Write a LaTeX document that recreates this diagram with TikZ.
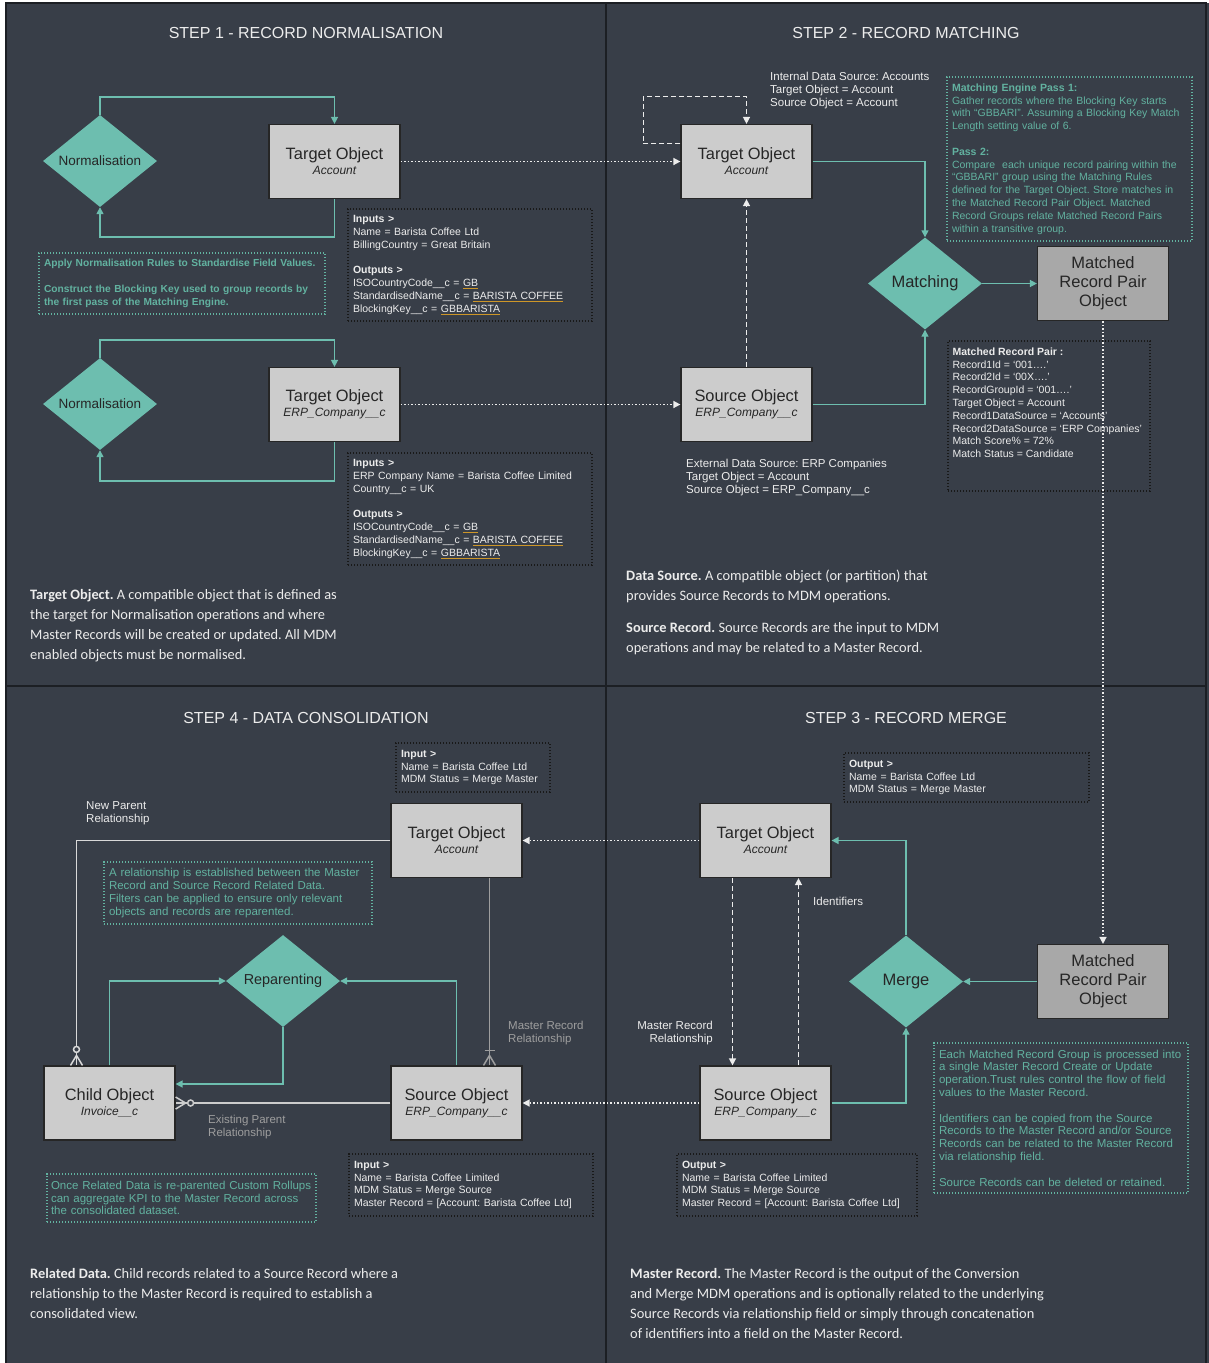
\documentclass[tikz,border=0pt]{standalone}
\usepackage{fontspec}
\setmainfont{Liberation Sans}
\newfontfamily\descfont{Carlito}
\usepackage{xcolor}
\usetikzlibrary{arrows.meta,shapes.geometric,positioning,calc}
\frenchspacing

\definecolor{panelbg}{RGB}{56,62,72}
\definecolor{frameline}{RGB}{28,31,36}
\definecolor{mdmteal}{RGB}{109,190,175}
\definecolor{noteteal}{RGB}{98,178,160}
\definecolor{boxgrey}{RGB}{204,204,204}
\definecolor{pairgrey}{RGB}{168,168,168}
\definecolor{softwhite}{RGB}{236,236,236}
\definecolor{relgrey}{RGB}{158,158,158}
\definecolor{ulorange}{RGB}{205,150,40}

\newcommand{\orul}[1]{{\color{ulorange}\underline{\color{softwhite}#1}}}

\begin{document}
\begin{tikzpicture}[x=1pt, y=-1pt,
    objbox/.style={rectangle, draw=black!85, line width=1.2pt, fill=boxgrey, minimum width=131pt, minimum height=74pt, align=center, text=black!85, font=\fontsize{16.4}{15}\selectfont},
    pairbox/.style={objbox, fill=pairgrey, font=\fontsize{16.5}{19}\selectfont},
    decision/.style={diamond, fill=mdmteal, minimum width=114pt, minimum height=92pt, aspect=1.24, inner sep=0pt, text=black!85},
    flow/.style={->, mdmteal, line width=1.4pt, >={Triangle[length=7pt,width=7pt]}},
    link/.style={->, softwhite, line width=1.5pt, dash pattern=on 1.5pt off 2pt, >={Triangle[length=7pt,width=7pt]}},
    selfref/.style={->, softwhite, line width=1.4pt, dash pattern=on 5pt off 3pt, >={Triangle[length=7pt,width=7pt]}},
    relline/.style={draw=gray!30, line width=1.5pt},
    infobox/.style={draw=black!90, line width=1.2pt, dash pattern=on 1.3pt off 1.7pt, align=left, inner xsep=5pt, inner ysep=0pt, text=softwhite, font=\fontsize{10.5}{12.8}\selectfont},
    notebox/.style={infobox, draw=noteteal, text=noteteal},
    steptitle/.style={text=softwhite, font=\fontsize{16}{19}\selectfont},
    tag/.style={text=softwhite, align=left, inner sep=0pt, anchor=north west, font=\fontsize{11.5}{13}\selectfont},
    desc/.style={text=softwhite, align=left, inner sep=0pt, anchor=north west, font=\descfont\fontsize{14.4}{20}\selectfont}
]
\useasboundingbox (0,0) rectangle (1209,1363);

% Panels
\fill[white] (0,0) rectangle (1209,1363);
\fill[panelbg] (6,3) rectangle (1209,1363);
\draw[frameline, line width=1.5pt] (6,1363) -- (6,3) -- (1206,3) -- (1206,1363);
\draw[frameline, line width=1.5pt] (606,3) -- (606,1363);
\draw[frameline, line width=1.5pt] (6,686) -- (1206,686);

\node[steptitle] (title1) at (306,33) {STEP 1 - RECORD NORMALISATION};
\node[steptitle] (title2) at (906,33) {STEP 2 - RECORD MATCHING};
\node[steptitle] (title4) at (306,718) {STEP 4 - DATA CONSOLIDATION};
\node[steptitle] (title3) at (906,718) {STEP 3 - RECORD MERGE};

% Step 1 - normalisation
\node[decision, font=\fontsize{13.5}{15}\selectfont] (norm1) at (100,161) {Normalisation};
\node[decision, font=\fontsize{13.5}{15}\selectfont] (norm2) at (100,404) {Normalisation};
\node[objbox] (tgt1) at (334.5,161.5) {Target Object\\{\fontsize{12}{14}\selectfont\itshape Account}};
\node[objbox] (tgt1b) at (334.5,404.5) {Target Object\\{\fontsize{12}{14}\selectfont\itshape ERP\_Company\_\_c}};

\draw[flow] (norm1.north) -- ++(0,-18) -| (tgt1.north);
\draw[flow] (tgt1.south) -- ++(0,38) -| (norm1.south);
\draw[flow] (norm2.north) -- ++(0,-18) -| (tgt1b.north);
\draw[flow] (tgt1b.south) -- ++(0,39) -| (norm2.south);

\node[notebox, text width=276pt, minimum height=61pt, font=\bfseries\fontsize{10.2}{12.8}\selectfont] (normnote) at (182,283.5) {Apply Normalisation Rules to Standardise Field Values.\\[12.8pt]Construct the Blocking Key used to group records by\\the first pass of the Matching Engine.};
\node[infobox, text width=234pt, minimum height=112pt] (inputs1) at (470,265) {\textbf{Inputs >}\\Name = Barista Coffee Ltd\\BillingCountry = Great Britain\\[12.8pt]\textbf{Outputs >}\\ISOCountryCode\_\_c = \orul{GB}\\StandardisedName\_\_c = \orul{BARISTA COFFEE}\\BlockingKey\_\_c = \orul{GBBARISTA}};
\node[infobox, text width=234pt, minimum height=112pt] (inputs1b) at (470,509) {\textbf{Inputs >}\\ERP Company Name = Barista Coffee Limited\\Country\_\_c = UK\\[12.8pt]\textbf{Outputs >}\\ISOCountryCode\_\_c = \orul{GB}\\StandardisedName\_\_c = \orul{BARISTA COFFEE}\\BlockingKey\_\_c = \orul{GBBARISTA}};

\node[desc] (descnorm) at (30,589) {\textbf{Target Object.} A compatible object that is defined as\\the target for Normalisation operations and where\\Master Records will be created or updated. All MDM\\enabled objects must be normalised.};

% Step 2 - matching
\node[objbox] (tgt2) at (746.5,161.5) {Target Object\\{\fontsize{12}{14}\selectfont\itshape Account}};
\node[objbox] (src2) at (746.5,404.5) {Source Object\\{\fontsize{12}{14}\selectfont\itshape ERP\_Company\_\_c}};
\node[decision, font=\fontsize{16.5}{18}\selectfont] (match) at (925,283.5) {Matching};
\node[pairbox] (pair2) at (1103,283.5) {Matched\\Record Pair\\Object};

\draw[link] (tgt1.east) -- (tgt2.west);
\draw[link] (tgt1b.east) -- (src2.west);
\draw[selfref] ([yshift=18pt]tgt2.west) -- ++(-37,0) -- ++(0,-47) -| (tgt2.north);
\draw[selfref] (src2.north) -- (tgt2.south);
\draw[flow] (tgt2.east) -| (match.north);
\draw[flow] (src2.east) -| (match.south);
\draw[flow] (match.east) -- (pair2.west);

\node[tag] (intsrc) at (770,72) {Internal Data Source: Accounts\\Target Object = Account\\Source Object = Account};
\node[tag] (extsrc) at (686,459) {External Data Source: ERP Companies\\Target Object = Account\\Source Object = ERP\_Company\_\_c};
\node[notebox, text width=235pt, minimum height=164pt] (matchnote) at (1069.5,159) {\textbf{Matching Engine Pass 1:}\\Gather records where the Blocking Key starts\\with “GBBARI”. Assuming a Blocking Key Match\\Length setting value of 6.\\[12.8pt]\textbf{Pass 2:}\\Compare\ \ each unique record pairing within the\\“GBBARI” group using the Matching Rules\\defined for the Target Object. Store matches in\\the Matched Record Pair Object. Matched\\Record Groups relate Matched Record Pairs\\within a transitive group.};
\node[infobox, minimum width=202pt, minimum height=150pt] (pairinfo) at (1049,416) {};
\node[tag, font=\fontsize{10.5}{12.8}\selectfont] (pairtext) at ([xshift=5pt,yshift=-7pt]pairinfo.north west) {\textbf{Matched Record Pair :}\\Record1Id = ‘001….’\\Record2Id = ‘00X….’\\RecordGroupId = ‘001….’\\Target Object = Account\\Record1DataSource = ‘Accounts’\\Record2DataSource = ‘ERP Companies’\\Match Score\% = 72\%\\Match Status = Candidate};

\node[desc] (descsrc) at (626,570) {\textbf{Data Source.} A compatible object (or partition) that\\provides Source Records to MDM operations.\\[12pt]\textbf{Source Record.} Source Records are the input to MDM\\operations and may be related to a Master Record.};

% Step 3 - merge
\node[objbox] (tgt3) at (765.5,840.5) {Target Object\\{\fontsize{12}{14}\selectfont\itshape Account}};
\node[objbox] (src3) at (765.5,1103) {Source Object\\{\fontsize{12}{14}\selectfont\itshape ERP\_Company\_\_c}};
\node[decision, font=\fontsize{16.5}{18}\selectfont] (merge) at (906,981.5) {Merge};
\node[pairbox] (pair3) at (1103,981.5) {Matched\\Record Pair\\Object};

\draw[link] (pair2.south) -- (pair3.north);
\draw[selfref] ([xshift=-33pt]tgt3.south) -- ([xshift=-33pt]src3.north);
\draw[selfref] ([xshift=33pt]src3.north) -- ([xshift=33pt]tgt3.south);
\draw[flow] (merge.north) |- (tgt3.east);
\draw[flow] (src3.east) -| (merge.south);
\draw[flow] (pair3.west) -- (merge.east);

\node[tag] (identlbl) at (813,897) {Identifiers};
\node[tag, anchor=north east, align=right] (mrrel3) at (713,1021) {Master Record\\Relationship};
\node[infobox, text width=235pt, minimum height=49pt] (outtgt3) at (966.5,777.5) {\textbf{Output >}\\Name = Barista Coffee Ltd\\MDM Status = Merge Master};
\node[infobox, text width=230pt, minimum height=62pt] (outsrc3) at (797,1185) {\textbf{Output >}\\Name = Barista Coffee Limited\\MDM Status = Merge Source\\Master Record = [Account: Barista Coffee Ltd]};
\node[notebox, text width=244pt, minimum height=150pt, font=\fontsize{11.5}{12.8}\selectfont] (mergenote) at (1061,1118) {Each Matched Record Group is processed into\\a single Master Record Create or Update\\operation.Trust rules control the flow of field\\values to the Master Record.\\[12.8pt]Identifiers can be copied from the Source\\Records to the Master Record and/or Source\\Records can be related to the Master Record\\via relationship field.\\[12.8pt]Source Records can be deleted or retained.};

\node[desc] (descmaster) at (630,1268) {\textbf{Master Record.} The Master Record is the output of the Conversion\\and Merge MDM operations and is optionally related to the underlying\\Source Records via relationship field or simply through concatenation\\of identifiers into a field on the Master Record.};

% Step 4 - consolidation
\node[objbox] (tgt4) at (456.5,840.5) {Target Object\\{\fontsize{12}{14}\selectfont\itshape Account}};
\node[objbox] (src4) at (456.5,1103) {Source Object\\{\fontsize{12}{14}\selectfont\itshape ERP\_Company\_\_c}};
\node[objbox] (child) at (109.5,1103) {Child Object\\{\fontsize{12}{14}\selectfont\itshape Invoice\_\_c}};
\node[decision, font=\fontsize{14.4}{16}\selectfont] (repar) at (283,981) {Reparenting};

\draw[link] (tgt3.west) -- (tgt4.east);
\draw[link] (src3.west) -- (src4.east);
\draw[flow] (child.north) |- (repar.west);
\draw[flow] (src4.north) |- (repar.east);
\draw[flow] (repar.south) |- ([yshift=19pt]child.east);

% Relationships (crow's feet)
\coordinate (cfTop) at ([xshift=-33pt]child.north);
\draw[relline] (tgt4.west) -| (cfTop);
\draw[relline] ($(cfTop)+(-6,0)$) -- ($(cfTop)+(0,-10)$) -- ($(cfTop)+(6,0)$);
\draw[relline, fill=panelbg] ($(cfTop)+(0,-16)$) circle (3pt);

\coordinate (mrTop) at ([xshift=33pt]src4.north);
\coordinate (mrBot) at ([xshift=33pt]tgt4.south);
\draw[relline, draw=relgrey] (mrBot) -- (mrTop);
\draw[relline, draw=relgrey] ($(mrTop)+(-6,0)$) -- ($(mrTop)+(0,-10)$) -- ($(mrTop)+(6,0)$);
\draw[relline, draw=relgrey] ($(mrTop)+(-5,-15)$) -- ($(mrTop)+(5,-15)$);

\draw[relline, draw=gray!40] (src4.west) -- (child.east);
\draw[relline, draw=gray!40] ($(child.east)+(0,-6)$) -- ($(child.east)+(10,0)$) -- ($(child.east)+(0,6)$);
\draw[relline, draw=gray!40, fill=panelbg] ($(child.east)+(15,0)$) circle (3pt);

\node[tag] (newparent) at (86,801) {New Parent\\Relationship};
\node[tag, text=relgrey] (mrrel4) at (508,1021) {Master Record\\Relationship};
\node[tag, text=relgrey] (existrel) at (208,1115) {Existing Parent\\Relationship};
\node[infobox, text width=144pt, minimum height=49pt] (intgt4) at (473,767.5) {\textbf{Input >}\\Name = Barista Coffee Ltd\\MDM Status = Merge Master};
\node[infobox, text width=234pt, minimum height=62pt] (insrc4) at (471,1185) {\textbf{Input >}\\Name = Barista Coffee Limited\\MDM Status = Merge Source\\Master Record = [Account: Barista Coffee Ltd]};
\node[notebox, text width=258pt, minimum height=62pt, font=\fontsize{11.5}{12.8}\selectfont] (reparnote) at (238,893) {A relationship is established between the Master\\Record and Source Record Related Data.\\Filters can be applied to ensure only relevant\\objects and records are reparented.};
\node[notebox, text width=261pt, inner xsep=4pt, minimum height=48pt, font=\fontsize{11.5}{12.8}\selectfont] (rollnote) at (181.5,1198) {Once Related Data is re-parented Custom Rollups\\can aggregate KPI to the Master Record across\\the consolidated dataset.};

\node[desc] (descrel) at (30,1268) {\textbf{Related Data.} Child records related to a Source Record where a\\relationship to the Master Record is required to establish a\\consolidated view.};

\end{tikzpicture}
\end{document}
